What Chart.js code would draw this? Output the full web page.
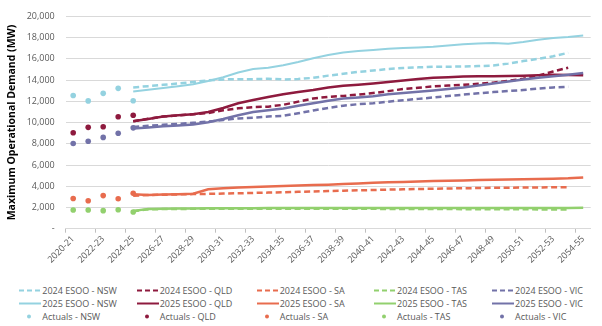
<!DOCTYPE html>
<html>
<head>
<meta charset="utf-8">
<script src="https://cdn.jsdelivr.net/npm/chart.js@4/dist/chart.umd.min.js"></script>
<style>
  html, body { margin: 0; padding: 0; background: #fff; }
  #wrap { position: relative; width: 602px; height: 326px; overflow: hidden; }
  #chartBox { position: absolute; left: 0; top: 0; width: 602px; height: 282px; }
  .lg { position: absolute; height: 13px; display: flex; align-items: center; font-family: 'Open Sans', sans-serif; font-size: 9px; color: #595959; white-space: nowrap; }
  .lg svg { display: block; margin-right: 1px; }
</style>
</head>
<body>
<div id="wrap">
  <div id="chartBox"><canvas id="c"></canvas></div>
  <div id="legend"></div>
</div>
<script>
const categories = ['2020-21','2021-22','2022-23','2023-24','2024-25','2025-26','2026-27','2027-28','2028-29','2029-30',
  '2030-31','2031-32','2032-33','2033-34','2034-35','2035-36','2036-37','2037-38','2038-39','2039-40',
  '2040-41','2041-42','2042-43','2043-44','2044-45','2045-46','2046-47','2047-48','2048-49','2049-50',
  '2050-51','2051-52','2052-53','2053-54','2054-55'];

const regions = ['NSW','QLD','SA','TAS','VIC'];
const regionColors = ['#94D2E0','#8E1A3E','#E86C4E','#92D06E','#7272A8'];

const yTicks = [0,2000,4000,6000,8000,10000,12000,14000,16000,18000,20000];

// Actuals 2020-21 .. 2024-25
const actualsNSW = [12550,12040,12750,13220,12060];
const actualsQLD = [9040,9550,9610,10540,10690];
const actualsSA  = [2840,2630,3120,2820,3330];
const actualsTAS = [1760,1760,1700,1790,1580];
const actualsVIC = [8030,8240,8600,8990,9500];

// 2025 ESOO, 2024-25 .. 2054-55
const esoo2025NSW = [12930,13080,13250,13420,13610,13910,14270,14720,15040,15160,15400,15700,16060,16360,16600,16740,16830,16950,17020,17080,17130,17250,17370,17440,17490,17430,17580,17790,17970,18060,18210];
const esoo2025QLD = [10120,10330,10570,10690,10780,10990,11370,11820,12120,12400,12660,12870,13070,13310,13460,13550,13670,13820,13970,14100,14210,14270,14330,14350,14360,14390,14420,14460,14500,14480,14450];
const esoo2025SA  = [3250,3180,3220,3250,3290,3720,3800,3870,3930,3970,4020,4070,4110,4150,4200,4260,4320,4370,4410,4450,4490,4510,4540,4580,4610,4640,4660,4690,4710,4750,4830];
const esoo2025TAS = [1680,1850,1880,1900,1910,1920,1920,1930,1930,1940,1940,1940,1950,1950,1950,1950,1950,1950,1950,1950,1950,1950,1950,1950,1950,1950,1950,1960,1960,1960,1970];
const esoo2025VIC = [9430,9540,9640,9730,9820,10030,10330,10690,10990,11150,11320,11590,11820,12060,12270,12360,12480,12660,12780,12900,13020,13170,13310,13490,13670,13860,14060,14210,14360,14510,14660];

// 2024 ESOO, 2024-25 .. 2053-54
const esoo2024NSW = [13310,13430,13550,13680,13820,13970,14060,14090,14090,14120,14060,14100,14210,14420,14590,14770,14900,15040,15140,15200,15250,15260,15280,15320,15370,15550,15790,16000,16240,16570];
const esoo2024QLD = [10120,10350,10570,10680,10780,10900,11160,11340,11460,11500,11670,11970,12270,12420,12510,12630,12780,12960,13160,13280,13400,13480,13550,13650,13760,13940,14120,14420,14810,15170];
const esoo2024SA  = [3100,3170,3200,3230,3260,3280,3310,3340,3370,3400,3430,3470,3510,3550,3580,3620,3640,3680,3710,3740,3760,3790,3810,3830,3850,3860,3880,3890,3900,3910];
const esoo2024TAS = [1650,1820,1850,1860,1870,1880,1880,1880,1890,1890,1890,1890,1880,1880,1880,1870,1870,1860,1860,1850,1850,1850,1840,1840,1830,1830,1830,1820,1810,1800];
const esoo2024VIC = [9580,9690,9790,9880,9970,10090,10240,10390,10450,10570,10630,10870,11140,11370,11590,11730,11820,11970,12100,12230,12360,12500,12630,12750,12870,12970,13070,13190,13310,13370];

const startIndexForecast = 4;

function place(values, start) {
  const out = new Array(categories.length).fill(null);
  values.forEach((v, i) => { out[start + i] = v; });
  return out;
}

const series2024 = [esoo2024NSW, esoo2024QLD, esoo2024SA, esoo2024TAS, esoo2024VIC];
const series2025 = [esoo2025NSW, esoo2025QLD, esoo2025SA, esoo2025TAS, esoo2025VIC];
const seriesAct  = [actualsNSW, actualsQLD, actualsSA, actualsTAS, actualsVIC];

const datasets = [];
regions.forEach((r, k) => {
  datasets.push({ label: '2024 ESOO - ' + r, data: place(series2024[k], startIndexForecast), borderColor: regionColors[k], backgroundColor: regionColors[k],
    borderWidth: 2.5, borderDash: [6, 3.5], pointRadius: 0, tension: 0, spanGaps: false, kind: 'dash' });
});
regions.forEach((r, k) => {
  datasets.push({ label: '2025 ESOO - ' + r, data: place(series2025[k], startIndexForecast), borderColor: regionColors[k], backgroundColor: regionColors[k],
    borderWidth: k === 0 ? 2 : 2.5, pointRadius: 0, tension: 0, kind: 'solid' });
});
regions.forEach((r, k) => {
  datasets.push({ label: 'Actuals - ' + r, data: place(seriesAct[k], 0), borderColor: regionColors[k], backgroundColor: regionColors[k],
    showLine: false, pointRadius: 2.8, pointBorderWidth: 0, pointHoverRadius: 2.8, kind: 'dot' });
});
datasets.forEach((d, i) => { d.order = datasets.length - i; });

Chart.defaults.font.family = "'Open Sans', sans-serif";
Chart.defaults.color = '#595959';

new Chart(document.getElementById('c'), {
  type: 'line',
  data: { labels: categories, datasets },
  options: {
    responsive: true,
    maintainAspectRatio: false,
    animation: false,
    layout: { padding: { left: 0, right: 11.3, top: 5.3, bottom: 0 } },
    plugins: { legend: { display: false }, tooltip: { enabled: false } },
    scales: {
      x: {
        type: 'category',
        offset: true,
        grid: {
          offset: true,
          drawOnChartArea: false,
          drawTicks: true,
          tickLength: 4,
          color: (ctx) => (ctx.index % 2 === 0 ? '#BFBFBF' : 'rgba(0,0,0,0)')
        },
        border: { display: true, color: '#D9D9D9', width: 1 },
        ticks: {
          autoSkip: false,
          minRotation: 45,
          maxRotation: 45,
          padding: 1,
          font: { size: 9 },
          color: '#595959',
          callback: function (value, index) { return index % 2 === 0 ? categories[index] : ''; }
        },
        afterFit: (scale) => { scale.height = 282 - 228.7; }
      },
      y: {
        min: 0,
        max: 20000,
        afterBuildTicks: (scale) => { scale.ticks = yTicks.map(v => ({ value: v })); },
        grid: { color: '#D9D9D9', lineWidth: 1, drawTicks: false },
        border: { display: false },
        ticks: {
          padding: 11,
          font: { size: 9 },
          color: '#595959',
          callback: (v) => (v === 0 ? '-' : v.toLocaleString('en-US'))
        },
        title: {
          display: true,
          text: 'Maximum Operational Demand (MW)',
          color: '#000000',
          font: { size: 10.5, weight: 'bold' },
          padding: { top: 6, bottom: 0 }
        },
        afterFit: (scale) => { scale.width = 65.7; }
      }
    }
  }
});

// HTML legend laid out in the reference's 3 x 5 grid
const legendCols = [19.3, 136.7, 256.7, 374, 492];
const legendRows = [290.7, 303.5, 316.7];
const legend = document.getElementById('legend');
datasets.forEach((d, i) => {
  const row = Math.floor(i / 5), col = i % 5;
  const el = document.createElement('div');
  el.className = 'lg';
  el.style.left = legendCols[col] + 'px';
  el.style.top = (legendRows[row] - 6.5) + 'px';
  let sw;
  if (d.kind === 'dash') {
    sw = `<svg width="22" height="13"><line x1="0" y1="6.5" x2="22" y2="6.5" stroke="${d.borderColor}" stroke-width="2" stroke-dasharray="5 3"/></svg>`;
  } else if (d.kind === 'solid') {
    sw = `<svg width="22" height="13"><line x1="0" y1="6.5" x2="22" y2="6.5" stroke="${d.borderColor}" stroke-width="2"/></svg>`;
  } else {
    sw = `<svg width="22" height="13"><circle cx="10" cy="6.5" r="2" fill="${d.borderColor}"/></svg>`;
  }
  const label = document.createElement('span');
  label.textContent = d.label;
  el.innerHTML = sw;
  el.appendChild(label);
  legend.appendChild(el);
});
</script>
</body>
</html>
